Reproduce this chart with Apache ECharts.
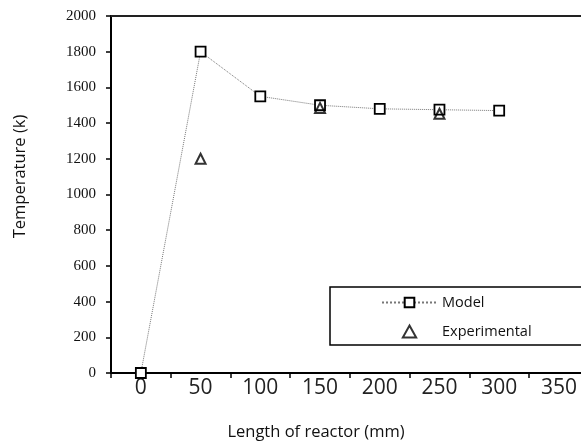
<!DOCTYPE html>
<html>
<head>
<meta charset="utf-8">
<script src="https://cdn.jsdelivr.net/npm/echarts@6/dist/echarts.min.js"></script>
<style>html,body{margin:0;padding:0;background:#fff;}#c{width:581px;height:447px;}</style>
</head>
<body>
<div id="c"></div>
<script>
const modelX = [0, 50, 100, 150, 200, 250, 300];
const modelY = [0, 1800, 1550, 1500, 1480, 1475, 1470];
const expX = [50, 150, 250];
const expY = [1200, 1485, 1452];
const xTickValues = [-25, 25, 75, 125, 175, 225, 275, 325];
const xLabelValues = [0, 50, 100, 150, 200, 250, 300, 350];

const chart = echarts.init(document.getElementById('c'), null, {renderer: 'canvas'});
const xMin = -25, xMax = 368.5;
chart.setOption({
  animation: false,
  backgroundColor: '#fff',
  grid: {left: 111, right: 0, top: 16, bottom: 74, containLabel: false},
  xAxis: [{
    type: 'value', min: xMin, max: xMax, position: 'bottom',
    name: 'Length of reactor (mm)', nameLocation: 'middle', nameGap: 51,
    nameTextStyle: {fontFamily: 'Open Sans', fontSize: 16.5, color: '#111', padding: [0, 60, 0, 0]},
    axisLine: {show: true, onZero: false, lineStyle: {color: '#000', width: 2}},
    axisTick: {show: true, inside: false, length: 5, lineStyle: {color: '#000', width: 1.5}, customValues: xTickValues},
    axisLabel: {show: true, margin: 5, fontFamily: 'Open Sans', fontSize: 21, color: '#222', customValues: xLabelValues},
    splitLine: {show: false}
  }, {
    type: 'value', min: xMin, max: xMax, position: 'top',
    axisLine: {show: true, onZero: false, lineStyle: {color: '#222', width: 2}},
    axisTick: {show: false}, axisLabel: {show: false}, splitLine: {show: false}
  }],
  yAxis: {
    type: 'value', min: 0, max: 2000, interval: 200, position: 'left',
    name: 'Temperature (k)', nameLocation: 'middle', nameGap: 82, nameRotate: 90,
    nameTextStyle: {fontFamily: 'Open Sans', fontSize: 16.5, color: '#111', padding: [0, 0, 0, 36]},
    axisLine: {show: true, onZero: false, lineStyle: {color: '#000', width: 2}},
    axisTick: {show: true, inside: false, length: 5, lineStyle: {color: '#000', width: 1.5}},
    axisLabel: {margin: 15, fontFamily: 'Liberation Serif', fontSize: 15, color: '#111', formatter: v => String(v)},
    splitLine: {show: false}
  },
  legend: {
    orient: 'vertical', left: 330, top: 287,
    data: ['Model', {name: 'Experimental', icon: 'path://M5,0 L10,9 L0,9 Z'}],
    itemWidth: 55, itemHeight: 12, itemGap: 14,
    padding: [8, 80, 6, 51],
    symbolKeepAspect: true,
    borderColor: '#000', borderWidth: 1.5, backgroundColor: '#fff',
    textStyle: {fontFamily: 'Open Sans', fontSize: 14.5, color: '#111'}
  },
  series: [{
    name: 'Model', type: 'line',
    data: modelX.map((x, i) => [x, modelY[i]]),
    symbol: 'rect', symbolSize: 10,
    lineStyle: {type: 'dotted', color: '#777', width: 1},
    itemStyle: {color: '#fff', borderColor: '#000', borderWidth: 1.8},
    z: 2
  }, {
    name: 'Experimental', type: 'scatter',
    data: expX.map((x, i) => [x, expY[i]]),
    symbol: 'triangle', symbolSize: 10, symbolKeepAspect: true,
    itemStyle: {color: 'rgba(255,255,255,0)', borderColor: '#000', borderWidth: 2},
    z: 3
  }]
});
</script>
</body>
</html>
